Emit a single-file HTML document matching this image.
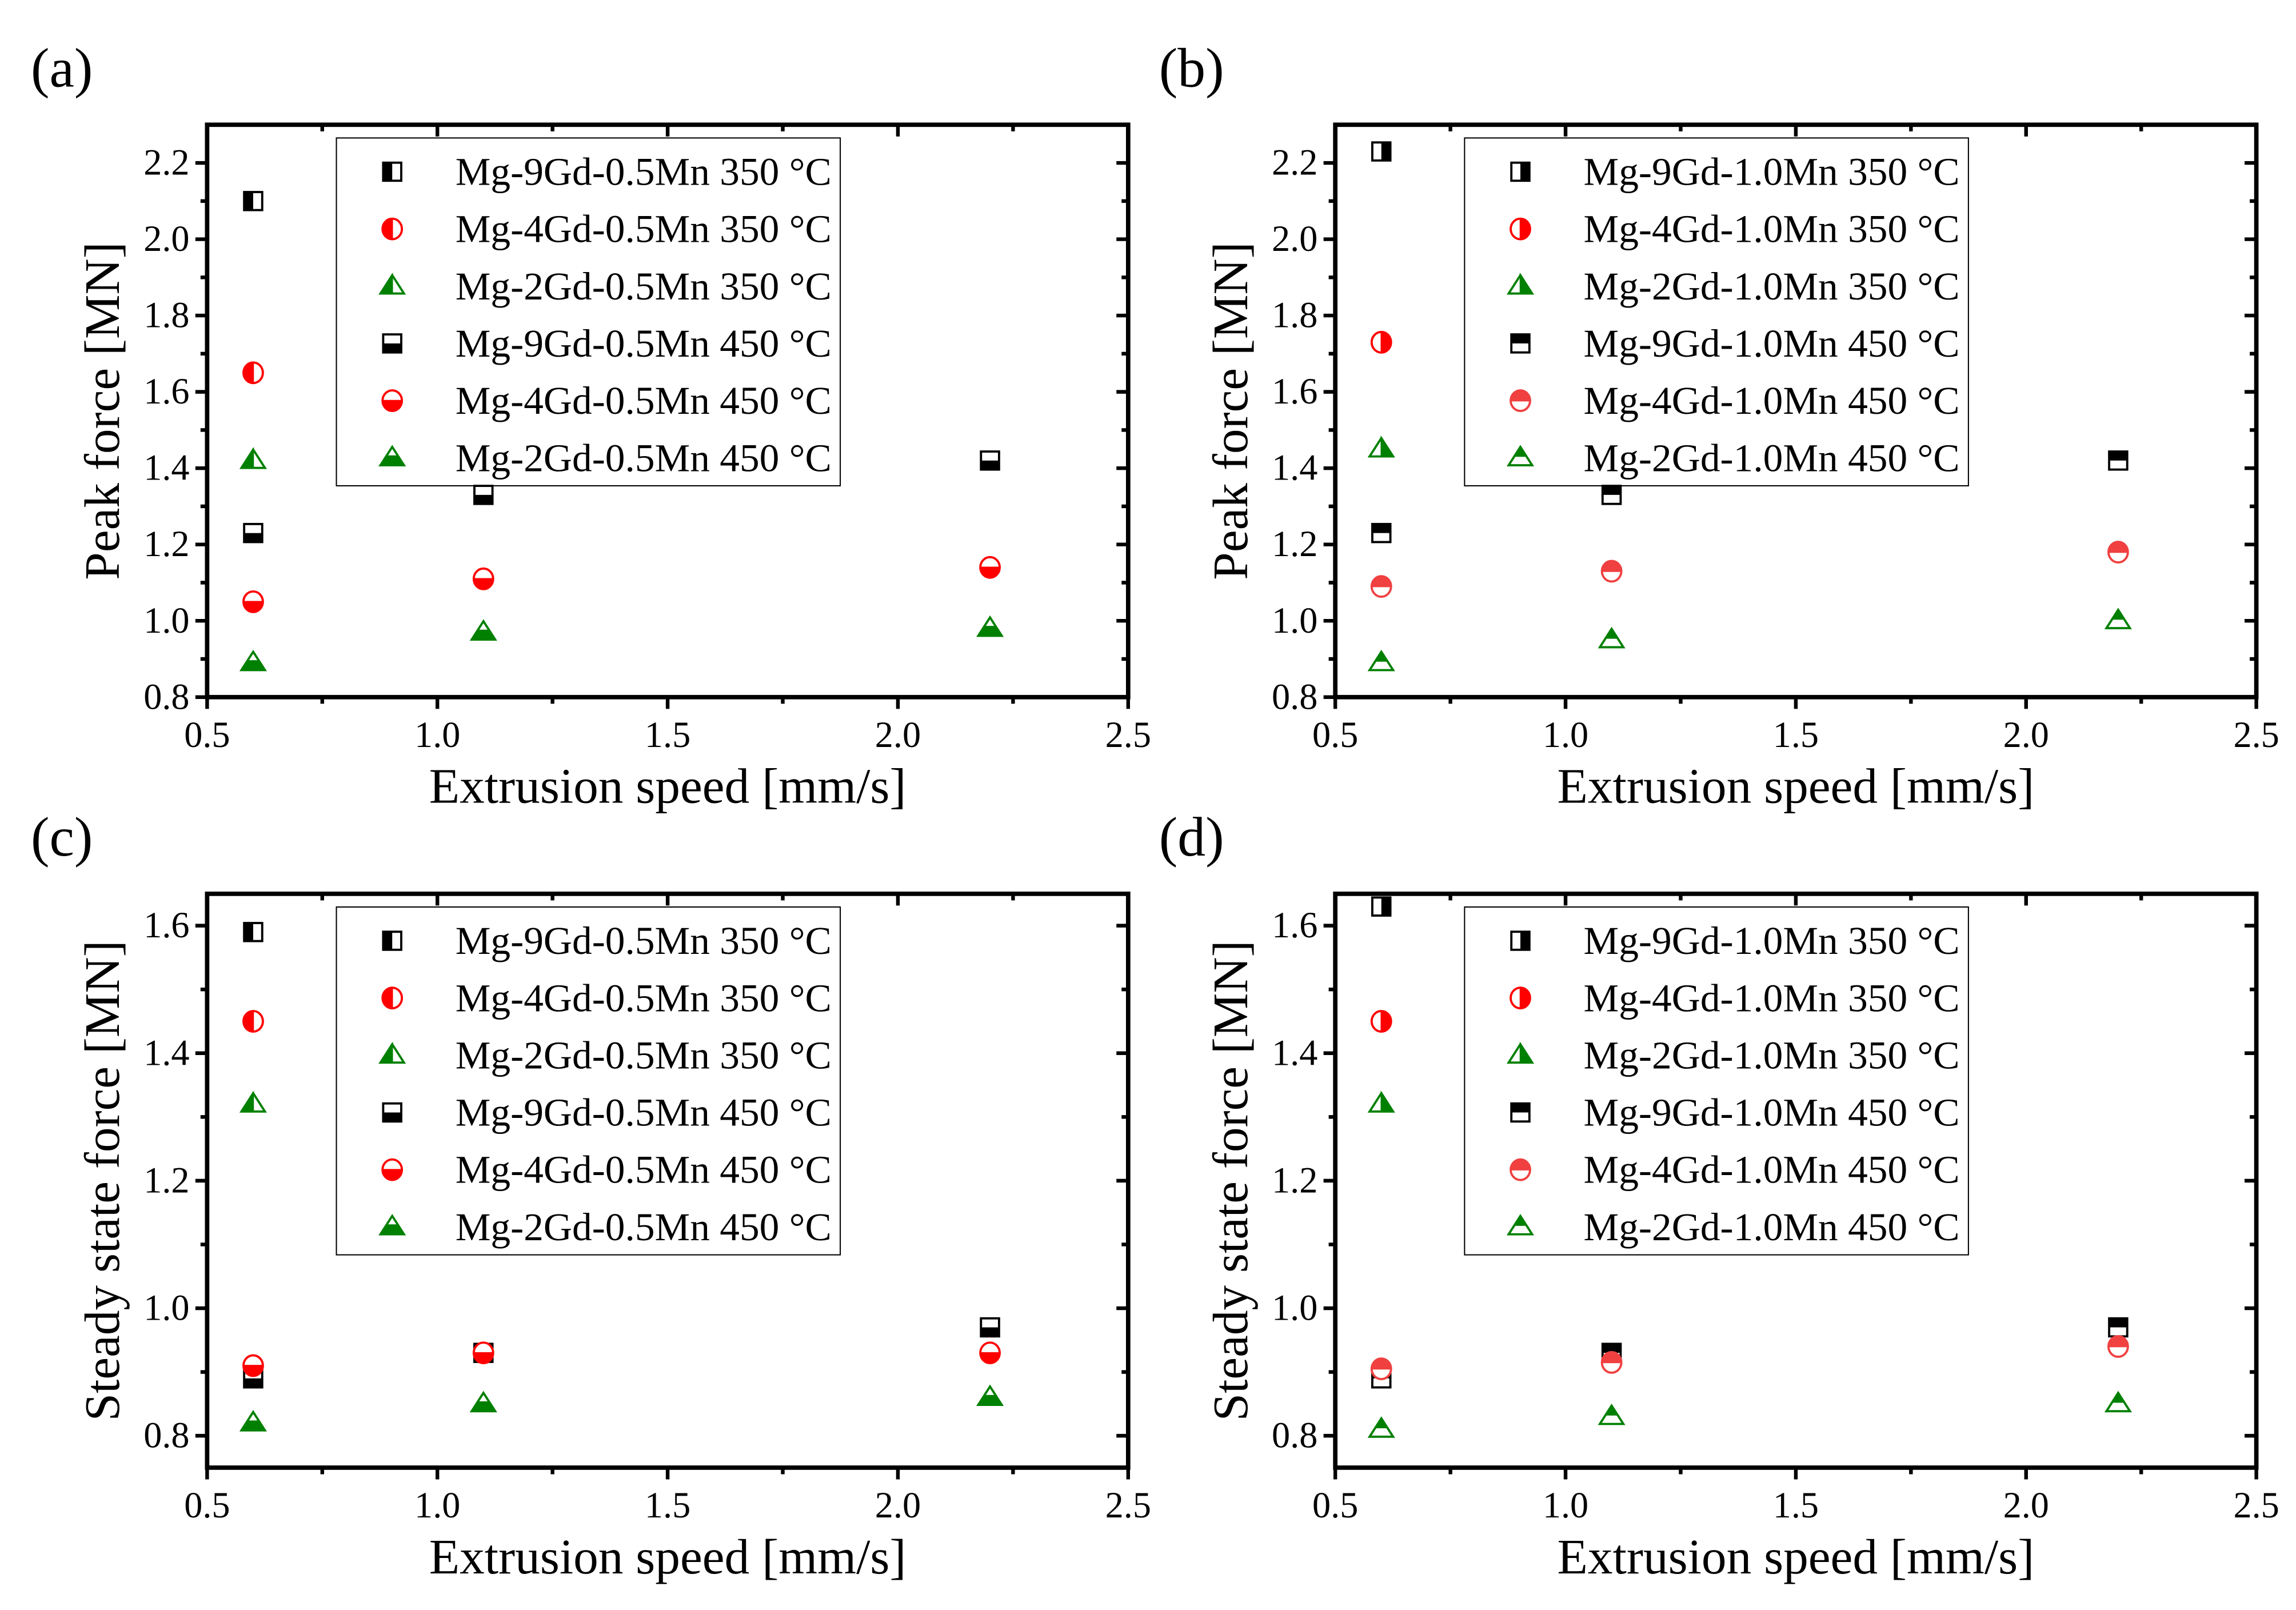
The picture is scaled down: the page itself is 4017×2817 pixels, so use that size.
<!DOCTYPE html>
<html><head><meta charset="utf-8"><style>
html,body{margin:0;padding:0;background:#fff;}
svg{display:block;}
text{font-family:"Liberation Serif",serif;fill:#000;}
</style></head><body>
<svg id="fig" width="4017" height="2817" viewBox="0 0 1563 1097" preserveAspectRatio="none" xmlns="http://www.w3.org/2000/svg"></svg>
<script>
const speeds = [0.6, 1.1, 2.2];
const speed350 = [0.6];
// panel a: peak force, 0.5Mn
const a350_9 = [2.10], a350_4 = [1.65], a350_2 = [1.42];
const a450_9 = [1.23, 1.33, 1.42], a450_4 = [1.05, 1.11, 1.14], a450_2 = [0.89, 0.97, 0.98];
// panel b: peak force, 1.0Mn
const b350_9 = [2.23], b350_4 = [1.73], b350_2 = [1.45];
const b450_9 = [1.23, 1.33, 1.42], b450_4 = [1.09, 1.13, 1.18], b450_2 = [0.89, 0.95, 1.00];
// panel c: steady state, 0.5Mn
const c350_9 = [1.59], c350_4 = [1.45], c350_2 = [1.32];
const c450_9 = [0.89, 0.93, 0.97], c450_4 = [0.91, 0.93, 0.93], c450_2 = [0.82, 0.85, 0.86];
// panel d: steady state, 1.0Mn
const d350_9 = [1.63], d350_4 = [1.45], d350_2 = [1.32];
const d450_9 = [0.89, 0.93, 0.97], d450_4 = [0.905, 0.915, 0.94], d450_2 = [0.81, 0.83, 0.85];
const xTicks = [0.5, 1.0, 1.5, 2.0, 2.5];
const yTicksPeak = [0.8, 1.0, 1.2, 1.4, 1.6, 1.8, 2.0, 2.2];
const yTicksSteady = [0.8, 1.0, 1.2, 1.4, 1.6];

const NS = "http://www.w3.org/2000/svg";
const svg = document.getElementById('fig');
function mk(tag, attrs, parent) {
  const e = document.createElementNS(NS, tag);
  for (const k in attrs) e.setAttribute(k, attrs[k]);
  (parent || svg).appendChild(e);
  return e;
}

function marker(g, shape, cx, cy, color, half) {
  if (shape === 'sq') {
    const s = 12.3, h = s / 2;
    mk('rect', {x: cx - h, y: cy - h, width: s, height: s, fill: '#fff', stroke: color, 'stroke-width': 1.5}, g);
    let r;
    if (half === 'L') r = {x: cx - h, y: cy - h, width: h, height: s};
    if (half === 'R') r = {x: cx, y: cy - h, width: h, height: s};
    if (half === 'B') r = {x: cx - h, y: cy, width: s, height: h};
    if (half === 'T') r = {x: cx - h, y: cy - h, width: s, height: h};
    r.fill = color; mk('rect', r, g);
  } else if (shape === 'ci') {
    const rx = 6.6, ry = 7;
    mk('ellipse', {cx: cx, cy: cy, rx: rx, ry: ry, fill: '#fff', stroke: color, 'stroke-width': 1.5}, g);
    let d;
    if (half === 'L') d = `M${cx},${cy-ry} A${rx},${ry} 0 0 0 ${cx},${cy+ry} Z`;
    if (half === 'R') d = `M${cx},${cy-ry} A${rx},${ry} 0 0 1 ${cx},${cy+ry} Z`;
    if (half === 'B') d = `M${cx-rx},${cy} A${rx},${ry} 0 0 0 ${cx+rx},${cy} Z`;
    if (half === 'T') d = `M${cx-rx},${cy} A${rx},${ry} 0 0 1 ${cx+rx},${cy} Z`;
    mk('path', {d: d, fill: color, stroke: color, 'stroke-width': 1}, g);
  } else {
    const w = 8, ht = 12.5, top = cy - ht * 0.6, bot = cy + ht * 0.4;
    mk('polygon', {points: `${cx},${top} ${cx-w},${bot} ${cx+w},${bot}`, fill: '#fff', stroke: color, 'stroke-width': 1.5, 'stroke-linejoin': 'miter'}, g);
    let p; const my = (top + bot) / 2, mw = w / 2;
    if (half === 'L') p = `${cx},${top} ${cx-w},${bot} ${cx},${bot}`;
    if (half === 'R') p = `${cx},${top} ${cx+w},${bot} ${cx},${bot}`;
    if (half === 'B') p = `${cx-mw},${my} ${cx+mw},${my} ${cx+w},${bot} ${cx-w},${bot}`;
    if (half === 'T') p = `${cx},${top} ${cx-mw},${my} ${cx+mw},${my}`;
    mk('polygon', {points: p, fill: color, stroke: color, 'stroke-width': 1}, g);
  }
}

const panels = [
  {id: 'a', left: 141, right: 768, top: 85, bottom: 475, ymin: 0.8, ymax: 2.3, ticks: yTicksPeak, minor: 0.1, title: 'Peak force [MN]', mn: '0.5',
   s350: [a350_9, a350_4, a350_2], s450: [a450_9, a450_4, a450_2], h350: 'L', h450: 'B', red450: '#ff0000'},
  {id: 'b', left: 909, right: 1536, top: 85, bottom: 475, ymin: 0.8, ymax: 2.3, ticks: yTicksPeak, minor: 0.1, title: 'Peak force [MN]', mn: '1.0',
   s350: [b350_9, b350_4, b350_2], s450: [b450_9, b450_4, b450_2], h350: 'R', h450: 'T', red450: '#f04040'},
  {id: 'c', left: 141, right: 768, top: 609, bottom: 1000, ymin: 0.75, ymax: 1.65, ticks: yTicksSteady, minor: 0.1, title: 'Steady state force [MN]', mn: '0.5',
   s350: [c350_9, c350_4, c350_2], s450: [c450_9, c450_4, c450_2], h350: 'L', h450: 'B', red450: '#ff0000'},
  {id: 'd', left: 909, right: 1536, top: 609, bottom: 1000, ymin: 0.75, ymax: 1.65, ticks: yTicksSteady, minor: 0.1, title: 'Steady state force [MN]', mn: '1.0',
   s350: [d350_9, d350_4, d350_2], s450: [d450_9, d450_4, d450_2], h350: 'R', h450: 'T', red450: '#f04040'}
];
const shapes = ['sq', 'ci', 'tr'];
const gdNames = ['9Gd', '4Gd', '2Gd'];

panels.forEach(P => {
  const g = mk('g', {});
  
  
  const xs = v => P.left + (v - 0.5) / 2.0 * (P.right - P.left);
  const ys = v => P.bottom - (v - P.ymin) / (P.ymax - P.ymin) * (P.bottom - P.top);

  const lab = mk('text', {x: P.left - 120, y: P.top - 26, 'font-size': 38}, g);
  lab.textContent = '(' + P.id + ')';
  
  

  const lg = mk('g', {}, g);
  
  
  const lx = P.left + 88, ly = P.top + 9;
  mk('rect', {x: lx, y: ly, width: 343, height: 237, fill: '#fff', stroke: '#000', 'stroke-width': 0.8}, lg);
  const colors350 = ['#000', '#ff0000', '#008000'];
  const colors450 = ['#000', P.red450, '#008000'];
  for (let i = 0; i < 6; i++) {
    const k = i % 3, is350 = i < 3;
    const ry = ly + 23 + i * 39;
    const e = mk('g', {}, lg);
    
    
    marker(e, shapes[k], lx + 38, ry, is350 ? colors350[k] : colors450[k], is350 ? P.h350 : P.h450);
    const t = mk('text', {x: lx + 81, y: ry + 9, 'font-size': 27}, e);
    t.textContent = 'Mg-' + gdNames[k] + '-' + P.mn + 'Mn ' + (is350 ? '350' : '450') + ' °C';
  }

  for (let k = 0; k < 3; k++) {
    const s = mk('g', {}, g);
    
    
    P.s350[k].forEach((v, j) => marker(s, shapes[k], xs(speed350[j]), ys(v), colors350[k], P.h350));
    const s2 = mk('g', {}, g);
    
    
    P.s450[k].forEach((v, j) => marker(s2, shapes[k], xs(speeds[j]), ys(v), colors450[k], P.h450));
  }

  const ax = mk('g', {}, g);
  
  
  mk('rect', {x: P.left, y: P.top, width: P.right - P.left, height: P.bottom - P.top, fill: 'none', stroke: '#000', 'stroke-width': 3}, ax);
  for (let v = 0.5; v <= 2.5001; v += 0.25) {
    const major = Math.abs(v * 2 - Math.round(v * 2)) < 1e-6;
    const L = major ? 8 : 4.5;
    const x = xs(v);
    mk('line', {x1: x, y1: P.bottom, x2: x, y2: P.bottom + L, stroke: '#000', 'stroke-width': 2.5}, ax);
    mk('line', {x1: x, y1: P.top, x2: x, y2: P.top + L, stroke: '#000', 'stroke-width': 2.5}, ax);
  }
  xTicks.forEach(v => {
    const t = mk('text', {x: xs(v), y: P.bottom + 34, 'font-size': 25, 'text-anchor': 'middle'}, ax);
    t.textContent = v.toFixed(1);
    
    
  });
  for (let v = P.ticks[0]; v <= P.ymax + 1e-6; v += P.minor) {
    const idx = Math.round((v - P.ticks[0]) / P.minor);
    const major = idx % 2 === 0;
    const L = major ? 8 : 4.5;
    const y = ys(v);
    if (y < P.top + 1) continue;
    mk('line', {x1: P.left, y1: y, x2: P.left - L, y2: y, stroke: '#000', 'stroke-width': 2.5}, ax);
    mk('line', {x1: P.right, y1: y, x2: P.right - L, y2: y, stroke: '#000', 'stroke-width': 2.5}, ax);
  }
  P.ticks.forEach(v => {
    const t = mk('text', {x: P.left - 12, y: ys(v) + 8, 'font-size': 25, 'text-anchor': 'end'}, ax);
    t.textContent = v.toFixed(1);
    
    
  });
  const xt = mk('text', {x: (P.left + P.right) / 2, y: P.bottom + 72, 'font-size': 34, 'text-anchor': 'middle'}, ax);
  xt.textContent = 'Extrusion speed [mm/s]';
  
  
  const cy = (P.top + P.bottom) / 2, cx = P.left - 60;
  const yt = mk('text', {x: cx, y: cy, 'font-size': 34, 'text-anchor': 'middle', transform: `rotate(-90 ${cx} ${cy})`}, ax);
  yt.textContent = P.title;
  
  
});
</script>
</body></html>
